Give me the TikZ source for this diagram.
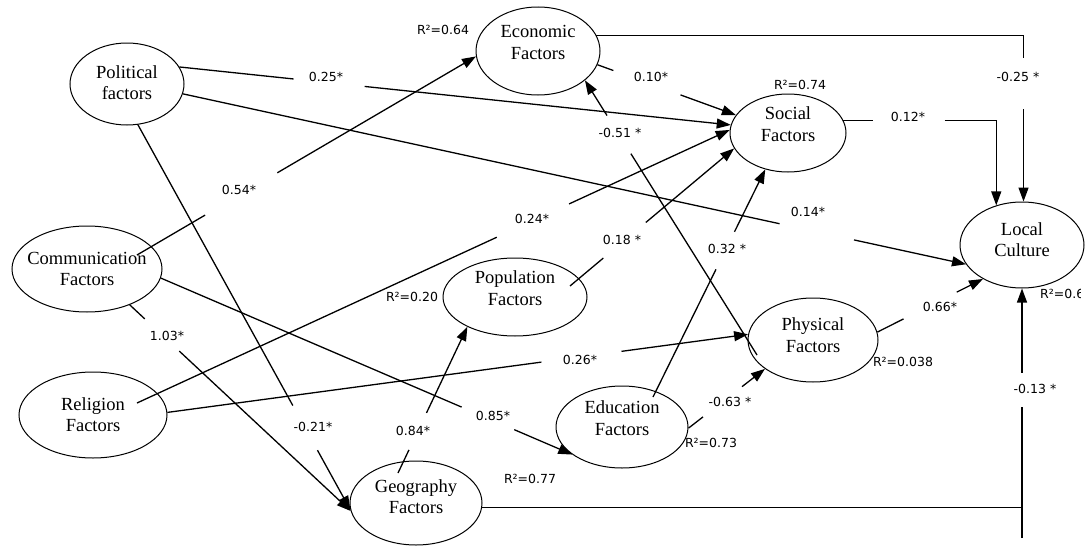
\documentclass[tikz,border=0pt]{standalone}
\usepackage{fontspec}
\setmainfont{Liberation Serif}
\newfontfamily\coeffont{DejaVu Sans}
\usetikzlibrary{arrows.meta,calc,shapes.geometric}

\tikzset{
  factor/.style={draw, ellipse, line width=1pt, inner sep=0pt},
  ftext/.style={align=center, font=\fontsize{18.5}{21.5}\selectfont, inner sep=0pt},
  link/.style={line width=1.3pt},
  arr/.style={link, -{Triangle[length=14pt,width=10pt]}},
  coef/.style={font=\coeffont\fontsize{12.5}{14}\selectfont, inner sep=0pt},
}

% path from #1 to #2, interrupted between pos #3 and pos #4, arrow at #2
\newcommand{\brokenlink}[4]{%
  \path #1 -- #2 coordinate[pos=#3] (bl-a) coordinate[pos=#4] (bl-b);
  \draw[link] #1 -- (bl-a);
  \draw[arr] (bl-b) -- #2;
}

\begin{document}
\begin{tikzpicture}[x=1pt,y=-1pt]
\clip (0,0) rectangle (1088,546);
\fill[white] (0,0) rectangle (1088,546);

% latent factors
\node[factor, minimum width=114pt, minimum height=82pt,
  label={[ftext,name=pol-t,yshift=1.5pt]center:{Political\\factors}}] (pol) at (127,84) {};
\node[factor, minimum width=124pt, minimum height=88pt,
  label={[ftext,name=eco-t,yshift=8.5pt]center:{Economic\\Factors}}] (eco) at (538,51) {};
\node[factor, minimum width=116pt, minimum height=78pt,
  label={[ftext,name=soc-t,yshift=9pt]center:{Social\\Factors}}] (soc) at (788,133) {};
\node[factor, minimum width=124pt, minimum height=86pt,
  label={[ftext,name=lc-t,yshift=5.5pt]center:{Local\\Culture}}] (lc) at (1022,245) {};
\node[factor, minimum width=150pt, minimum height=86pt,
  label={[ftext,name=com-t,yshift=0pt]center:{Communication\\Factors}}] (com) at (87,269) {};
\node[factor, minimum width=148pt, minimum height=86pt,
  label={[ftext,name=rel-t,yshift=0.5pt]center:{Religion\\Factors}}] (rel) at (93,415) {};
\node[factor, minimum width=144pt, minimum height=78pt,
  label={[ftext,name=pop-t,yshift=9pt]center:{Population\\Factors}}] (pop) at (515,297) {};
\node[factor, minimum width=132pt, minimum height=82pt,
  label={[ftext,name=edu-t,yshift=9pt]center:{Education\\Factors}}] (edu) at (622,427) {};
\node[factor, minimum width=130pt, minimum height=84pt,
  label={[ftext,name=phy-t,yshift=5pt]center:{Physical\\Factors}}] (phy) at (813,340) {};
\node[factor, minimum width=132pt, minimum height=84pt,
  label={[ftext,name=geo-t,yshift=6.5pt]center:{Geography\\Factors}}] (geo) at (416,503) {};

% paths
\brokenlink{(pol.18)}{(soc.172)}{0.207}{0.336}
\brokenlink{(pol.350)}{(lc.199)}{0.762}{0.857}
\brokenlink{($(com)+(50,-14)$)}{(eco.185)}{0.201}{0.414}
\brokenlink{(pol.285)}{(geo.186)}{0.729}{0.845}
\brokenlink{(com.320)}{(geo.187)}{0.068}{0.224}
\brokenlink{(com.353)}{(edu.209)}{0.731}{0.859}
\brokenlink{($(rel)+(44,-12)$)}{(soc.177)}{0.607}{0.729}
\brokenlink{(rel.2)}{(phy.175)}{0.644}{0.782}
\brokenlink{($(geo)+(-18,-30)$)}{(pop.212)}{0.158}{0.411}
\brokenlink{($(pop)+(55,-11)$)}{(soc.196)}{0.203}{0.462}
\brokenlink{($(edu)+(31,-30)$)}{(soc.238)}{0.561}{0.726}
\brokenlink{($(phy)+(-56,15)$)}{(eco.328)}{0.733}{0.872}
\brokenlink{(eco.347)}{(soc.161)}{0.115}{0.600}
\brokenlink{(phy.7)}{(lc.221)}{0.248}{0.752}
\brokenlink{(edu.359)}{(phy.211)}{0.190}{0.700}

% elbow from Economic Factors to Local Culture
\path (eco.15) -| (lc.88) coordinate[pos=0.569] (ec-a) coordinate[pos=0.722] (ec-b);
\draw[link] (eco.15) -| (ec-a);
\draw[arr] (ec-b) -- (lc.88);

% elbow from Social Factors to Local Culture
\path (soc.13) -| (lc.123) coordinate[pos=0.097] (sc-a) coordinate[pos=0.331] (sc-b);
\draw[link] (soc.13) -- (sc-a);
\draw[arr] (sc-b) -| (lc.123);

% Geography Factors to Local Culture, joining the upright line
\coordinate (tail) at (1022,538);
\coordinate (junc) at (geo.356 -| tail);
\draw[link] (geo.356) -- (junc);
\path (tail) -- (lc.south) coordinate[pos=0.526] (gc-a) coordinate[pos=0.663] (gc-b);
\draw[link] (tail) -- (gc-a);
\draw[arr] (gc-b) -- (lc.south);

% path coefficients
\node[coef] (c1) at (326,77) {0.25*};
\node[coef] (c2) at (808,212) {0.14*};
\node[coef] (c3) at (239,190) {0.54*};
\node[coef] (c4) at (313,427) {-0.21*};
\node[coef] (c5) at (167,336) {1.03*};
\node[coef] (c6) at (493,416) {0.85*};
\node[coef] (c7) at (532,219) {0.24*};
\node[coef] (c8) at (580,360) {0.26*};
\node[coef] (c9) at (413,431) {0.84*};
\node[coef] (c10) at (622,240) {0.18 *};
\node[coef] (c11) at (727,249) {0.32 *};
\node[coef] (c12) at (620,133) {-0.51 *};
\node[coef] (c13) at (651,77) {0.10*};
\node[coef] (c14) at (1018,77) {-0.25 *};
\node[coef] (c15) at (908,117) {0.12*};
\node[coef] (c16) at (1035,389) {-0.13 *};
\node[coef] (c17) at (940,307) {0.66*};
\node[coef] (c18) at (730,402) {-0.63 *};

% explained variance
\node[coef] (r1) at (443,30) {R²=0.64};
\node[coef] (r2) at (800,85) {R²=0.74};
\node[coef] (r3) at (412,297) {R²=0.20};
\node[coef] (r4) at (903,362) {R²=0.038};
\node[coef] (r5) at (711,443) {R²=0.73};
\node[coef] (r6) at (530,479) {R²=0.77};
\begin{scope}
  \clip (1030,280) rectangle (1080,310);
  \node[coef, anchor=west] (r7) at (1040,294) {R²=0.6};
\end{scope}
\end{tikzpicture}
\end{document}
